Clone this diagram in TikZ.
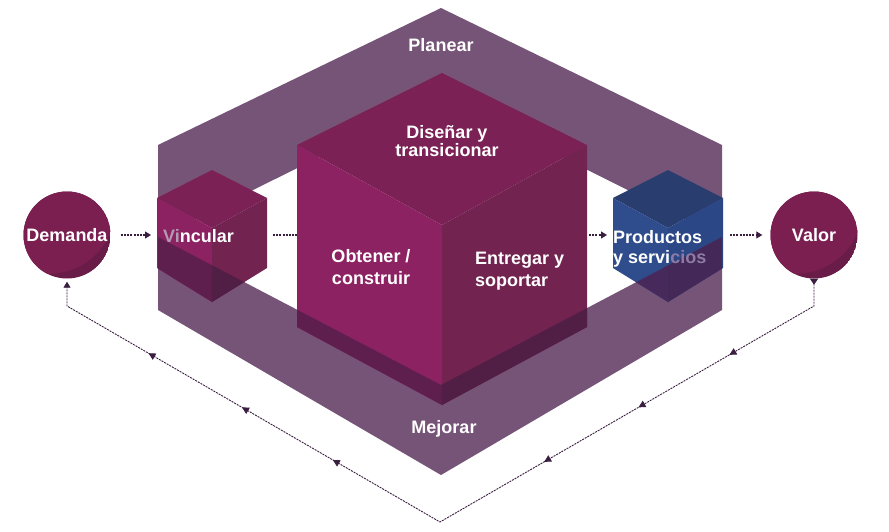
\documentclass[tikz,border=0pt]{standalone}
\usepackage{fontspec}
\setmainfont{Liberation Sans}
\usetikzlibrary{arrows.meta,decorations.markings}
\definecolor{band}{HTML}{765477}
\definecolor{mtop}{HTML}{7B2155}
\definecolor{mleft}{HTML}{8C2262}
\definecolor{mright}{HTML}{722350}
\definecolor{mleftd}{HTML}{5E1F4E}
\definecolor{mrightd}{HTML}{511E46}
\definecolor{btop}{HTML}{2A3D6F}
\definecolor{bleft}{HTML}{2F4C8C}
\definecolor{bright}{HTML}{2C4786}
\definecolor{bleftd}{HTML}{47295C}
\definecolor{brightd}{HTML}{432858}
\definecolor{circmain}{HTML}{7B1F51}
\definecolor{circdark}{HTML}{691C47}
\definecolor{arrowc}{HTML}{3A1E40}
\definecolor{fadeA}{HTML}{B39AB2}
\definecolor{fadeB}{HTML}{8E7BA3}
\tikzset{
  txt/.style={text=white, inner sep=0pt, font=\bfseries\fontsize{18}{22}\selectfont},
  flow/.style={draw=arrowc, line width=1.1pt, dash pattern=on 2pt off 1.2pt,
    -{Triangle[length=6pt,width=7pt]}},
  flowplain/.style={draw=arrowc, line width=1.1pt, dash pattern=on 2pt off 1.2pt},
  loopflow/.style={draw=arrowc, line width=0.9pt, dash pattern=on 2pt off 1pt,
    {Triangle[reversed,length=6pt,width=8pt]}-{Triangle[length=6pt,width=7pt]},
    shorten >=3pt,
    postaction={decorate},
    decoration={markings,
      mark=at position 125pt with {\arrow[arrowc]{Triangle[length=7pt,width=7pt]}},
      mark=at position 230pt with {\arrow[arrowc]{Triangle[length=7pt,width=7pt]}},
      mark=at position 339pt with {\arrow[arrowc]{Triangle[length=7pt,width=7pt]}},
      mark=at position 583pt with {\arrow[arrowc]{Triangle[length=7pt,width=7pt]}},
      mark=at position 688pt with {\arrow[arrowc]{Triangle[length=7pt,width=7pt]}},
      mark=at position 796pt with {\arrow[arrowc]{Triangle[length=7pt,width=7pt]}}}},
  circnode/.style={circle, minimum size=87pt, inner sep=0pt, text=white,
    font=\bfseries\fontsize{18}{22}\selectfont}
}
\begin{document}
\begin{tikzpicture}[x=1pt,y=-1pt]
\useasboundingbox (0,0) rectangle (889,532);
\fill[white] (0,0) rectangle (889,532);

% ring (Planear / Mejorar)
\fill[band,even odd rule]
  (158,145) -- (441,8) -- (722,145) -- (722,310) -- (441,475) -- (158,310) -- cycle
  (441,97) -- (722,237) -- (441,385) -- (158,237) -- cycle;

% connectors between blocks (drawn under the cubes)
\coordinate (vin-in) at (151,235);
\coordinate (vin-out) at (273,235);
\coordinate (cube-in) at (298,235);
\coordinate (cube-out) at (589,235);
\coordinate (prod-in) at (607,235);
\coordinate (prod-out) at (730,235);
\draw[flowplain] (vin-out) -- (cube-in);
\draw[flow] (cube-out) -- (prod-in);

% big cube
\fill[mtop] (442,73) -- (587,145) -- (442,225) -- (297,145) -- cycle;
\fill[mleft] (297,145) -- (442,225) -- (442,405) -- (297,327) -- cycle;
\fill[mright] (442,225) -- (587,145) -- (587,327) -- (442,405) -- cycle;

% Vincular cube
\fill[mtop] (212,170) -- (267,198) -- (212,228) -- (157,198) -- cycle;
\fill[mleft] (157,198) -- (212,228) -- (212,302) -- (157,268) -- cycle;
\fill[mright] (212,228) -- (267,198) -- (267,268) -- (212,302) -- cycle;

% Productos cube
\fill[btop] (668,170) -- (723,198) -- (668,228) -- (613,198) -- cycle;
\fill[bleft] (613,198) -- (668,228) -- (668,302) -- (613,268) -- cycle;
\fill[bright] (668,228) -- (723,198) -- (723,268) -- (668,302) -- cycle;

% front part of the ring (Mejorar) over the cubes
\begin{scope}
  \clip (158,237) -- (441,385) -- (722,237) -- (722,310) -- (441,475) -- (158,310) -- cycle;
  \fill[mleftd] (297,145) -- (442,225) -- (442,405) -- (297,327) -- cycle;
  \fill[mrightd] (442,225) -- (587,145) -- (587,327) -- (442,405) -- cycle;
  \fill[mleftd] (157,198) -- (212,228) -- (212,302) -- (157,268) -- cycle;
  \fill[mrightd] (212,228) -- (267,198) -- (267,268) -- (212,302) -- cycle;
  \fill[bleftd] (613,198) -- (668,228) -- (668,302) -- (613,268) -- cycle;
  \fill[brightd] (668,228) -- (723,198) -- (723,268) -- (668,302) -- cycle;
\end{scope}

% circles
\begin{scope}
  \clip (67,235) circle (43.5pt);
  \fill[circdark] (67,235) circle (43.5pt);
  \fill[circmain] (49,207.5) circle (66.3pt);
\end{scope}
\begin{scope}
  \clip (814,235) circle (43.5pt);
  \fill[circdark] (814,235) circle (43.5pt);
  \fill[circmain] (796,207.5) circle (66.3pt);
\end{scope}
\node[circnode] (demanda) at (67,235) {Demanda};
\node[circnode] (valor) at (814,235) {Valor};

% flow arrows outside the frame
\draw[flow, shorten <=10pt] (demanda.east) -- (vin-in);
\draw[flow, shorten >=8pt] (prod-out) -- (valor.west);

% feedback loop
\coordinate (vr) at (814,306);
\coordinate (vb) at (440,522);
\coordinate (vl) at (67,306);
\draw[loopflow] (valor.south) -- (vr) -- (vb) -- (vl) -- (demanda.south);

% texts
\node[txt] (planear) at (441,45) {Planear};
\node[txt, align=center, font=\bfseries\fontsize{18}{17.5}\selectfont] (disenar) at (447,141) {Diseñar y\\transicionar};
\node[txt, align=center] (obtener) at (371,267.5) {Obtener /\\construir};
\node[txt, align=left, anchor=west] (entregar) at (475,271) {Entregar y\\soportar};
\node[txt, anchor=west] (vincular) at (163,236.5) {\textcolor{fadeA}{Vi}ncular};
\node[txt, align=left, anchor=west, font=\bfseries\fontsize{18}{20}\selectfont] (productos) at (613,248.5) {Productos\\y servi\textcolor{fadeB}{cios}};
\node[txt] (mejorar) at (444,428.5) {Mejorar};
\end{tikzpicture}
\end{document}
